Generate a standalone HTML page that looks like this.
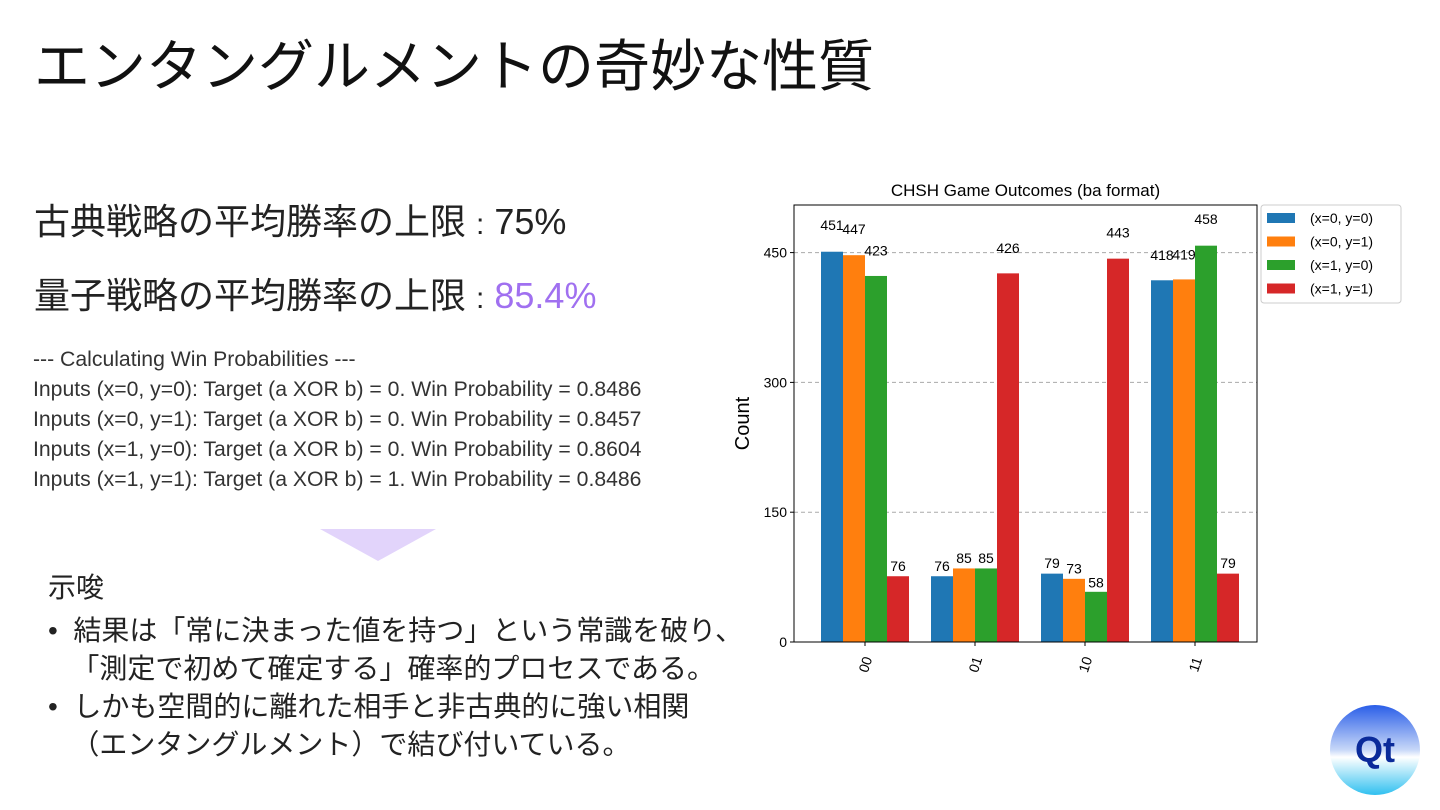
<!DOCTYPE html>
<html><head><meta charset="utf-8"><style>
body{margin:0;width:1440px;height:810px;background:#fff;font-family:"Liberation Sans","Noto Sans CJK JP",sans-serif;color:#222;position:relative;overflow:hidden}
.a{position:absolute;white-space:nowrap}
</style></head><body>
<div class="a" style="left:34px;top:30px;font-size:56px;line-height:74px;color:#111">エンタングルメントの奇妙な性質</div>
<div class="a" style="left:34px;top:198px;font-size:36px;line-height:48px">古典戦略の平均勝率の上限 <span style="font-size:30px">:</span> 75%</div>
<div class="a" style="left:34px;top:272px;font-size:36px;line-height:48px">量子戦略の平均勝率の上限 <span style="font-size:30px">:</span> <span style="color:#a070f0">85.4%</span></div>
<div class="a" style="left:33px;top:345px;font-size:21.2px;line-height:30px;color:#333">--- Calculating Win Probabilities ---<br>Inputs (x=0, y=0): Target (a XOR b) = 0. Win Probability = 0.8486<br>Inputs (x=0, y=1): Target (a XOR b) = 0. Win Probability = 0.8457<br>Inputs (x=1, y=0): Target (a XOR b) = 0. Win Probability = 0.8604<br>Inputs (x=1, y=1): Target (a XOR b) = 1. Win Probability = 0.8486</div>
<svg class="a" style="left:320px;top:529px" width="116" height="33"><polygon points="0,0 116,0 58,32" fill="#e2d4fb"/></svg>
<div class="a" style="left:48px;top:569px;font-size:28px;line-height:38px">示唆</div>
<div class="a" style="left:48px;top:612px;font-size:28px;line-height:38px">•&nbsp; 結果は「常に決まった値を持つ」という常識を破り、<br>&nbsp;&nbsp;&nbsp;「測定で初めて確定する」確率的プロセスである。<br>•&nbsp; しかも空間的に離れた相手と非古典的に強い相関<br>&nbsp;&nbsp;&nbsp;（エンタングルメント）で結び付いている。</div>
<div class="a" style="left:1330px;top:705px;width:90px;height:90px;border-radius:50%;background:linear-gradient(#2a5ee8,#c8d8f8 50%,#fff 58%,#30c0f0);text-align:center;line-height:90px;font-size:36px;font-weight:bold;color:#0a2a9a">Qt</div>
<svg id="chart" class="a" style="left:0;top:0" width="1440" height="810"></svg>
<script>
const categories=["00","01","10","11"];
const seriesNames=["(x=0, y=0)","(x=0, y=1)","(x=1, y=0)","(x=1, y=1)"];
const s0=[451,76,79,418];
const s1=[447,85,73,419];
const s2=[423,85,58,458];
const s3=[76,426,443,79];
const yTicks=[0,150,300,450];
const series=[s0,s1,s2,s3];
const colors=["#1f77b4","#ff7f0e","#2ca02c","#d62728"];
const L=794,R=1257,T=205,B=642,YMAX=505;
const y=v=>B-v*(B-T)/YMAX;
const xc=i=>865+110*i;
const bw=22;
const svg=document.getElementById('chart');
const NS='http://www.w3.org/2000/svg';
function mk(t,a,txt){const e=document.createElementNS(NS,t);for(const k in a)e.setAttribute(k,a[k]);if(txt!=null)e.textContent=txt;svg.appendChild(e);return e;}
let e=mk('text',{x:(L+R)/2,y:196,'text-anchor':'middle','font-size':17,fill:'#000'},'CHSH Game Outcomes (ba format)');

yTicks.forEach(t=>{
 if(t>0){const g=mk('line',{x1:L,x2:R,y1:y(t),y2:y(t),stroke:'#aaa','stroke-dasharray':'4,3'});}
 mk('line',{x1:L-4,x2:L,y1:y(t),y2:y(t),stroke:'#000'});
 const l=mk('text',{x:L-7,y:y(t)+5,'text-anchor':'end','font-size':14,fill:'#000'},t);
 
});
e=mk('text',{x:0,y:0,transform:`translate(749,${(T+B)/2}) rotate(-90)`,'text-anchor':'middle','font-size':20,fill:'#000'},'Count');

series.forEach((s,j)=>s.forEach((v,i)=>{
 const x0=xc(i)-2*bw+j*bw;
 const r=mk('rect',{x:x0,y:y(v),width:bw,height:B-y(v),fill:colors[j]});
 
 const t=mk('text',{x:x0+bw/2,y:y(v*1.05)-2,'text-anchor':'middle','font-size':14,fill:'#000'},v);
 
}));
categories.forEach((c,i)=>{
 mk('line',{x1:xc(i),x2:xc(i),y1:B,y2:B+4,stroke:'#000'});
 const t=mk('text',{x:0,y:0,transform:`translate(${xc(i)+5},${B+24}) rotate(-72)`,'text-anchor':'middle','font-size':14,fill:'#000'},c);
 
});
e=mk('rect',{x:L,y:T,width:R-L,height:B-T,fill:'none',stroke:'#000','stroke-width':1});

e=mk('rect',{x:1261,y:205,width:140,height:98,rx:3,fill:'#fff',stroke:'#ccc'});

seriesNames.forEach((n,j)=>{
 const yy=218+j*23.5;
 const r=mk('rect',{x:1267,y:yy-5,width:28,height:10,fill:colors[j]});
 
 const t=mk('text',{x:1310,y:yy+5,'font-size':14,fill:'#000'},n);
 
});
</script>
</body></html>
